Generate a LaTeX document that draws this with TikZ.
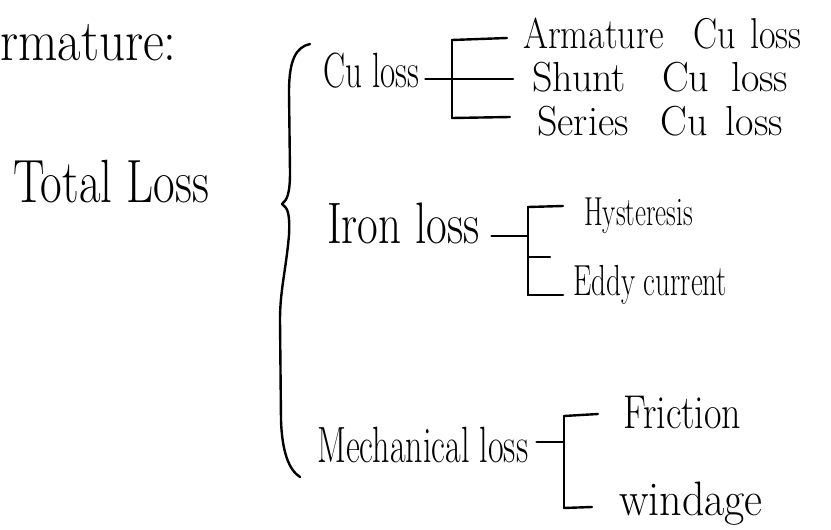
\documentclass[tikz,border=0pt]{standalone}
\usepackage{graphicx}
\newcommand\myfs[1]{\fontsize{#1}{#1}\selectfont}
\newcommand\tallt[2]{\scalebox{1}[#1]{#2}}
\tikzset{
  hand/.style={line width=2.4pt, line cap=round, line join=round, draw=black},
  lbl/.style={inner sep=0pt, anchor=base west, text=black}
}
\begin{document}
\begin{tikzpicture}[x=1pt,y=-1pt]
\useasboundingbox[fill=white] (0,0) rectangle (831,530);

% left labels
\node[lbl, font=\myfs{51}] (armhead) at (0,60) {\tallt{1.15}{rmature:}};
\node[lbl, font=\myfs{47}] (total) at (13,202) {\tallt{1.3}{Total Loss}};

% big brace
\coordinate (bTop) at (310,44);
\coordinate (bMid) at (282,204);
\coordinate (bBot) at (300,477);
\draw[hand] (bTop) .. controls (296,47) and (289,60) .. (289,92)
  -- (290,172) .. controls (290,194) and (287,200) .. (bMid)
  .. controls (288,208) and (290,214) .. (289,235)
  .. controls (286,270) and (280,290) .. (280,320)
  -- (281,420) .. controls (282,452) and (289,470) .. (bBot);

% ---- Cu loss group
\node[lbl, font=\myfs{33}] (cu) at (323,87) {\tallt{1.5}{Cu loss}};
\node[lbl, font=\myfs{36}] (cuA) at (523,48) {\tallt{1.2}{Armature\hspace{30pt}Cu\hspace{14pt}loss}};
\node[lbl, font=\myfs{40}] (cuS) at (532,91) {\tallt{1.05}{Shunt\hspace{36pt}Cu\hspace{22pt}loss}};
\node[lbl, font=\myfs{40}] (cuR) at (537,135) {\tallt{1.05}{Series\hspace{32pt}Cu\hspace{18pt}loss}};
\coordinate (cuT) at (452,40);
\coordinate (cuM) at (452,79);
\coordinate (cuB) at (452,118);
\coordinate (cuTe) at (507,38);
\coordinate (cuMe) at (513,79);
\coordinate (cuBe) at (510,117);
\draw[hand] (cu.east |- cuM) ++(6,0) -- (cuM);
\draw[hand] (cuT) -- (cuB);
\draw[hand] (cuT) -- (cuTe);
\draw[hand] (cuM) -- (cuMe);
\draw[hand] (cuB) -- (cuBe);

% ---- Iron loss group
\node[lbl, font=\myfs{45}] (iron) at (327,243) {\tallt{1.3}{Iron loss}};
\node[lbl, font=\myfs{27}] (hyst) at (584,225) {\tallt{1.5}{Hysteresis}};
\node[lbl, font=\myfs{29}] (eddy) at (573,295) {\tallt{1.5}{Eddy current}};
\coordinate (irT) at (528,207);
\coordinate (irM) at (528,257);
\coordinate (irB) at (528,295);
\coordinate (irD) at (528,236);
\coordinate (irTe) at (563,206);
\coordinate (irMe) at (550,257);
\coordinate (irBe) at (563,295);
\draw[hand] (iron.east |- irD) ++(12,0) -- (irD);
\draw[hand] (irT) -- (irB);
\draw[hand] (irT) -- (irTe);
\draw[hand] (irM) -- (irMe);
\draw[hand] (irB) -- (irBe);

% ---- Mechanical loss group
\node[lbl, font=\myfs{34}] (mech) at (317,462) {\tallt{1.5}{Mechanical loss}};
\node[lbl, font=\myfs{38}] (fric) at (623,428) {\tallt{1.25}{Friction}};
\node[lbl, font=\myfs{44}] (wind) at (619,515) {\tallt{1.1}{windage}};
\coordinate (meT) at (564,416);
\coordinate (meB) at (564,508);
\coordinate (meD) at (564,442);
\coordinate (meTe) at (598,414);
\coordinate (meBe) at (592,507);
\draw[hand] (mech.east |- meD) ++(8,0) -- (meD);
\draw[hand] (meT) -- (meB);
\draw[hand] (meT) -- (meTe);
\draw[hand] (meB) -- (meBe);
\end{tikzpicture}
\end{document}
